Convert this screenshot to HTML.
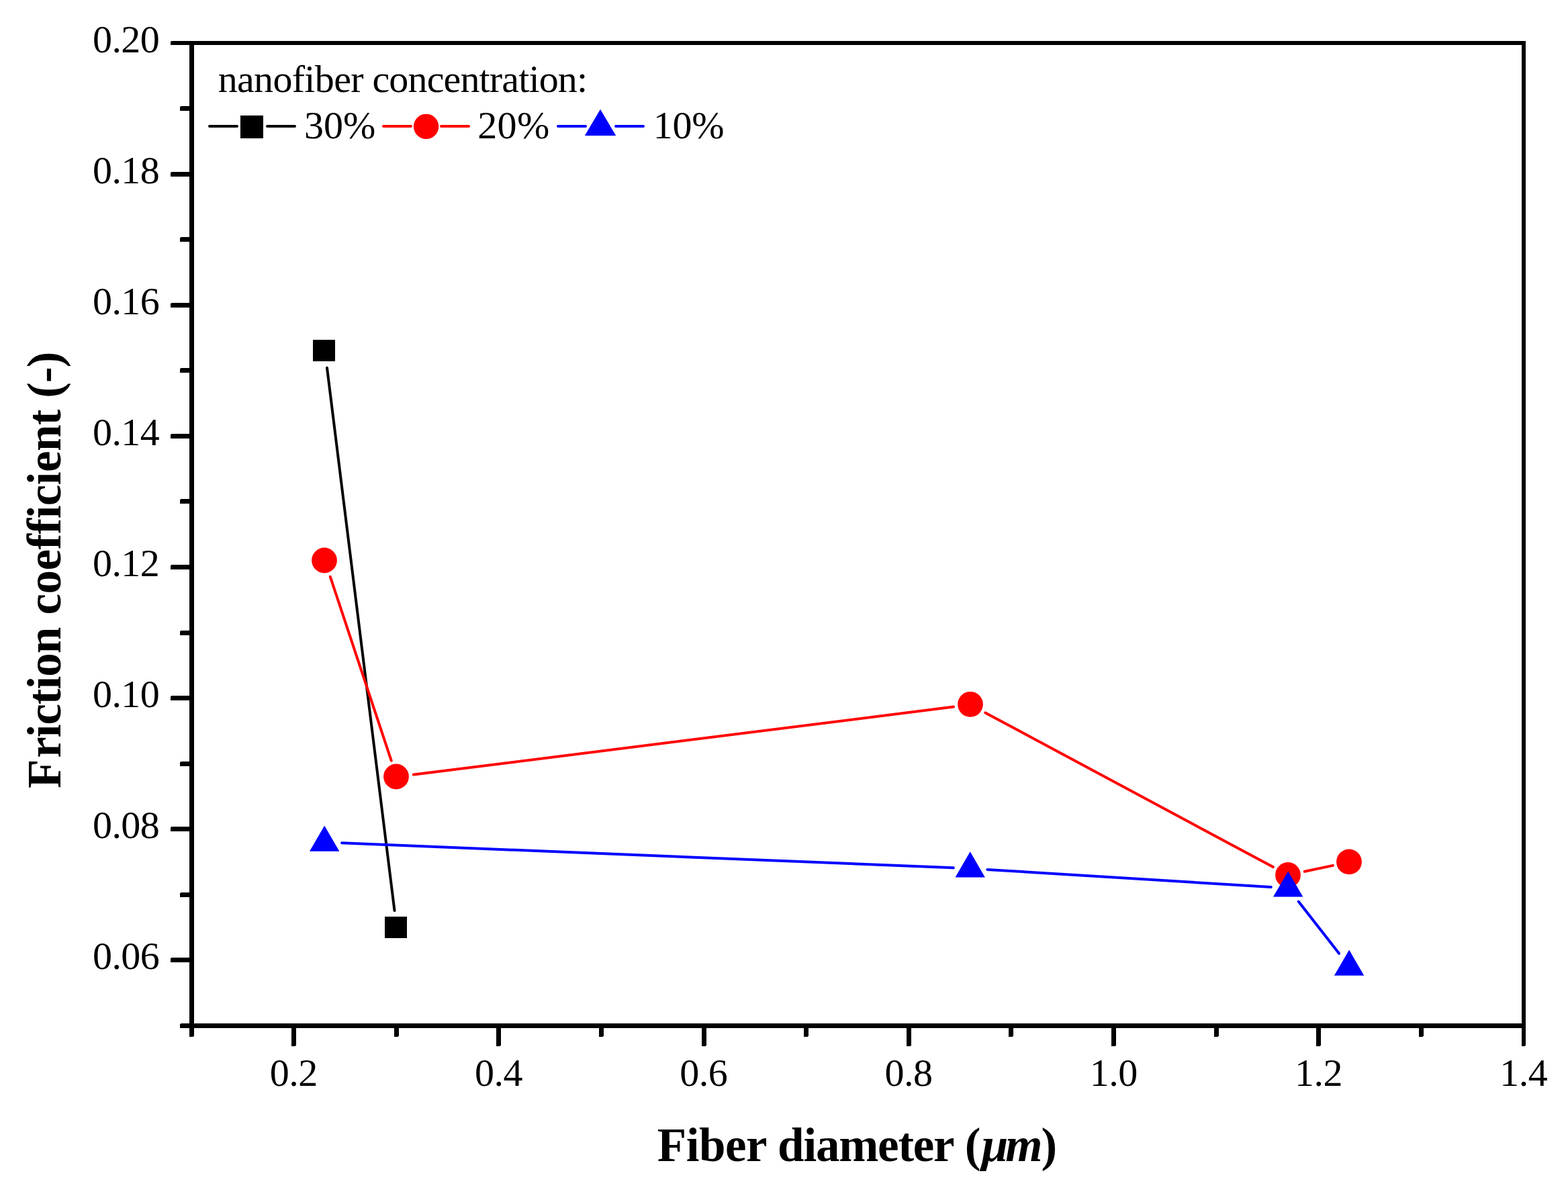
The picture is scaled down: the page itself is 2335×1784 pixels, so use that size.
<!DOCTYPE html>
<html lang="en">
<head>
<meta charset="utf-8">
<title>Friction coefficient vs. fiber diameter</title>
<style>
html,body{margin:0;padding:0;background:#fff;}
body{width:2335px;height:1784px;overflow:hidden;}
svg{display:block;}
text{font-family:"Liberation Serif","Times New Roman",Times,serif;fill:#000;font-variant-ligatures:none;font-kerning:none;}
.tick{font-size:58px;letter-spacing:-0.53px;}
.leg{font-size:58px;}
.title{font-size:71px;font-weight:bold;}
</style>
</head>
<body>
<svg width="2335" height="1784" viewBox="0 0 2335 1784">
<rect x="0" y="0" width="2335" height="1784" fill="#ffffff"/>
<g fill="#000" shape-rendering="crispEdges">
<rect x="282" y="61" width="7" height="1470"/>
<rect x="2266" y="61" width="6" height="1470"/>
<rect x="282" y="61" width="1990" height="6"/>
<rect x="282" y="1524" width="1990" height="7"/>
</g>
<g fill="#000" shape-rendering="crispEdges">
<rect x="268" y="1524" width="18" height="7" rx="2" ry="2"/>
<rect x="254" y="1426" width="32" height="7" rx="2" ry="2"/>
<rect x="268" y="1329" width="18" height="7" rx="2" ry="2"/>
<rect x="254" y="1231" width="32" height="7" rx="2" ry="2"/>
<rect x="268" y="1134" width="18" height="7" rx="2" ry="2"/>
<rect x="254" y="1036" width="32" height="7" rx="2" ry="2"/>
<rect x="268" y="939" width="18" height="7" rx="2" ry="2"/>
<rect x="254" y="841" width="32" height="7" rx="2" ry="2"/>
<rect x="268" y="743" width="18" height="7" rx="2" ry="2"/>
<rect x="254" y="646" width="32" height="7" rx="2" ry="2"/>
<rect x="268" y="548" width="18" height="7" rx="2" ry="2"/>
<rect x="254" y="451" width="32" height="7" rx="2" ry="2"/>
<rect x="268" y="353" width="18" height="7" rx="2" ry="2"/>
<rect x="254" y="256" width="32" height="7" rx="2" ry="2"/>
<rect x="268" y="158" width="18" height="7" rx="2" ry="2"/>
<rect x="254" y="61" width="32" height="6" rx="2" ry="2"/>
<rect x="282" y="1527" width="7" height="17" rx="2" ry="2"/>
<rect x="434" y="1527" width="7" height="31" rx="2" ry="2"/>
<rect x="587" y="1527" width="7" height="17" rx="2" ry="2"/>
<rect x="739" y="1527" width="7" height="31" rx="2" ry="2"/>
<rect x="892" y="1527" width="7" height="17" rx="2" ry="2"/>
<rect x="1045" y="1527" width="7" height="31" rx="2" ry="2"/>
<rect x="1197" y="1527" width="7" height="17" rx="2" ry="2"/>
<rect x="1350" y="1527" width="7" height="31" rx="2" ry="2"/>
<rect x="1502" y="1527" width="7" height="17" rx="2" ry="2"/>
<rect x="1655" y="1527" width="7" height="31" rx="2" ry="2"/>
<rect x="1808" y="1527" width="7" height="17" rx="2" ry="2"/>
<rect x="1960" y="1527" width="7" height="31" rx="2" ry="2"/>
<rect x="2113" y="1527" width="7" height="17" rx="2" ry="2"/>
<rect x="2266" y="1527" width="6" height="31" rx="2" ry="2"/>
</g>
<g class="tick">
<text x="237.3" y="1443.0" text-anchor="end">0.06</text>
<text x="237.3" y="1248.0" text-anchor="end">0.08</text>
<text x="237.3" y="1053.0" text-anchor="end">0.10</text>
<text x="237.3" y="858.0" text-anchor="end">0.12</text>
<text x="237.3" y="663.0" text-anchor="end">0.14</text>
<text x="237.3" y="468.0" text-anchor="end">0.16</text>
<text x="237.3" y="273.0" text-anchor="end">0.18</text>
<text x="237.3" y="78.0" text-anchor="end">0.20</text>
<text x="437.2" y="1617" text-anchor="middle">0.2</text>
<text x="742.5" y="1617" text-anchor="middle">0.4</text>
<text x="1047.8" y="1617" text-anchor="middle">0.6</text>
<text x="1353.0" y="1617" text-anchor="middle">0.8</text>
<text x="1658.3" y="1617" text-anchor="middle">1.0</text>
<text x="1963.5" y="1617" text-anchor="middle">1.2</text>
<text x="2268.8" y="1617" text-anchor="middle">1.4</text>
</g>
<text class="title" y="1729"><tspan x="978.79" letter-spacing="-0.47">Fiber</tspan> <tspan x="1158.12" letter-spacing="-1.22">diameter</tspan> <tspan x="1436.68">(</tspan><tspan x="1461.82" letter-spacing="-3.93" font-style="italic">μm</tspan><tspan x="1550.51">)</tspan></text>
<text class="title" transform="translate(90 1172.9) rotate(-90)" y="0"><tspan x="-1.21">F</tspan><tspan x="44.09" letter-spacing="-1.02">riction</tspan> <tspan x="257.47" letter-spacing="-0.55">coefficient</tspan> <tspan x="580.08" letter-spacing="-0.90">(-)</tspan></text>
<g stroke="#000000" stroke-width="4" stroke-linecap="round" fill="none">
<line x1="487.0" y1="547.7" x2="587.5" y2="1356.0"/>
</g>
<g>
<rect x="466.0" y="506.0" width="33" height="32" fill="#000000" shape-rendering="crispEdges"/>
<rect x="573.0" y="1365.0" width="33" height="32" fill="#000000" shape-rendering="crispEdges"/>
</g>
<g stroke="#ff0000" stroke-width="4" stroke-linecap="round" fill="none">
<line x1="491.8" y1="858.8" x2="582.7" y2="1132.7"/>
<line x1="615.8" y1="1153.6" x2="1420.0" y2="1052.6"/>
<line x1="1467.4" y1="1061.4" x2="1895.8" y2="1291.1"/>
<line x1="1942.8" y1="1297.8" x2="1984.9" y2="1288.9"/>
</g>
<g>
<circle cx="483.0" cy="834.5" r="18.9" fill="#ff0000"/>
<circle cx="590.0" cy="1156.5" r="18.9" fill="#ff0000"/>
<circle cx="1445.0" cy="1048.8" r="18.9" fill="#ff0000"/>
<circle cx="1918.0" cy="1303.0" r="18.9" fill="#ff0000"/>
<circle cx="2009.0" cy="1283.4" r="18.9" fill="#ff0000"/>
</g>
<g stroke="#0000ff" stroke-width="4" stroke-linecap="round" fill="none">
<line x1="509.1" y1="1255.3" x2="1419.8" y2="1292.3"/>
<line x1="1470.3" y1="1294.9" x2="1892.8" y2="1321.0"/>
<line x1="1933.7" y1="1342.5" x2="1994.0" y2="1419.8"/>
</g>
<g>
<polygon points="483.2,1229.6 461.0,1267.8 505.4,1267.8" fill="#0000ff"/>
<polygon points="1444.7,1268.2 1422.5,1306.4 1466.9,1306.4" fill="#0000ff"/>
<polygon points="1918.2,1297.4 1896.0,1335.6 1940.4,1335.6" fill="#0000ff"/>
<polygon points="2009.1,1414.6 1986.9,1452.8 2031.3,1452.8" fill="#0000ff"/>
</g>
<text class="leg" y="137"><tspan x="324.67" letter-spacing="-0.67">nanofiber</tspan> <tspan x="554.49" letter-spacing="-0.86">concentration:</tspan></text>
<g stroke="#000000" stroke-width="4" stroke-linecap="round" fill="none"><line x1="312.0" y1="188.0" x2="353.0" y2="188.0"/><line x1="398.0" y1="188.0" x2="439.0" y2="188.0"/></g>
<rect x="358.0" y="172.0" width="34" height="34" fill="#000000" shape-rendering="crispEdges"/>
<text class="leg" y="206"><tspan x="452.92" letter-spacing="0.07">30%</tspan></text>
<g stroke="#ff0000" stroke-width="4" stroke-linecap="round" fill="none"><line x1="571.0" y1="188.0" x2="612.0" y2="188.0"/><line x1="657.0" y1="188.0" x2="698.0" y2="188.0"/></g>
<circle cx="634.6" cy="188.4" r="18.7" fill="#ff0000"/>
<text class="leg" y="206"><tspan x="711.15" letter-spacing="0.46">20%</tspan></text>
<g stroke="#0000ff" stroke-width="4" stroke-linecap="round" fill="none"><line x1="831.0" y1="188.0" x2="872.0" y2="188.0"/><line x1="917.0" y1="188.0" x2="958.0" y2="188.0"/></g>
<polygon points="894.0,162.8 870.8,202.1 917.2,202.1" fill="#0000ff"/>
<text class="leg" y="206"><tspan x="972.70" letter-spacing="-0.27">10%</tspan></text>
</svg>
</body>
</html>
